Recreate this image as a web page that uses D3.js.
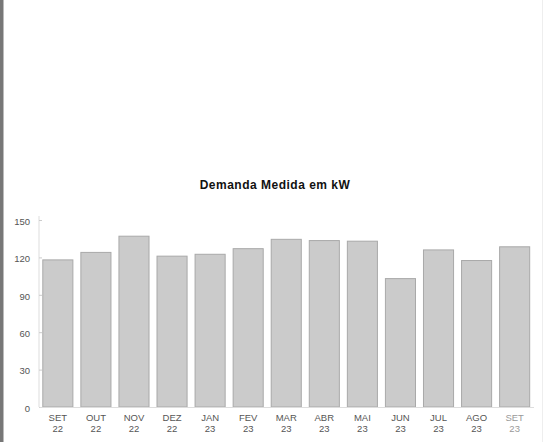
<!DOCTYPE html>
<html><head><meta charset="utf-8">
<script src="https://cdn.jsdelivr.net/npm/d3@7"></script>
<style>body{margin:0;background:#fff}svg{display:block}</style>
</head><body>
<svg id="c" width="544" height="442"></svg>
<script>
const months = ["SET","OUT","NOV","DEZ","JAN","FEV","MAR","ABR","MAI","JUN","JUL","AGO","SET"];
const years  = ["22","22","22","22","23","23","23","23","23","23","23","23","23"];
const demanda = [118, 124, 137, 121, 122.5, 127, 134.5, 133.5, 133, 103, 126, 117.5, 128.5];
const yTicks = [0, 30, 60, 90, 120, 150];
const title = "Demanda Medida em kW";

const svg = d3.select("#c");
const font = "Liberation Sans, Arial, sans-serif";
const cats = months.map((m,i)=>i);

// scan border on the left
svg.append("rect").attr("x",0).attr("y",0).attr("width",3).attr("height",442).attr("fill","#777");
svg.append("rect").attr("x",3).attr("y",0).attr("width",1).attr("height",442).attr("fill","#bbb");
svg.append("rect").attr("x",542).attr("y",0).attr("width",1).attr("height",442).attr("fill","#eee");

const x = d3.scaleBand().domain(cats).range([39, 533.5]).paddingInner(0.21).paddingOuter(0.1);
const y = d3.scaleLinear().domain([0,150]).range([407, 220]);

svg.append("text").attr("x",275).attr("y",188.5).attr("text-anchor","middle")
  .attr("font-family",font).attr("font-weight","bold").attr("font-size",12)
  .attr("letter-spacing",0.5).attr("fill","#111").text(title);

// y axis
const ya = svg.append("g").attr("transform","translate(39,0)")
  .call(d3.axisLeft(y).tickValues(yTicks).tickSize(-3).tickPadding(9));
ya.select(".domain").attr("stroke","#ddd").attr("d","M0,216V407");
ya.selectAll(".tick line").attr("stroke","#ccc");
ya.selectAll("text").attr("font-family",font).attr("font-size",9.5).attr("fill","#555").attr("dy","0.45em");

// bars
svg.append("g").selectAll("rect").data(demanda).join("rect")
  .attr("x",(d,i)=>x(i)).attr("width",x.bandwidth())
  .attr("y",d=>y(d)).attr("height",d=>y(0)-y(d))
  .attr("fill","#cbcbcb").attr("stroke","#a9a9a9").attr("stroke-width",1);

// x axis
const xa = svg.append("g").attr("transform","translate(0,407)")
  .call(d3.axisBottom(x).tickSize(0).tickFormat(""));
xa.select(".domain").attr("stroke","#ddd");
const lab = svg.append("g").selectAll("text").data(cats).join("text")
  .attr("x",i=>x(i)+x.bandwidth()/2).attr("y",421).attr("text-anchor","middle")
  .attr("font-family",font).attr("font-size",9.5).attr("fill",(i)=> i>=12 ? "#999" : "#555");
lab.append("tspan").attr("x",i=>x(i)+x.bandwidth()/2).attr("dy",0).text(i=>months[i]);
lab.append("tspan").attr("x",i=>x(i)+x.bandwidth()/2).attr("dy",11).text(i=>years[i]);
</script>
</body></html>
